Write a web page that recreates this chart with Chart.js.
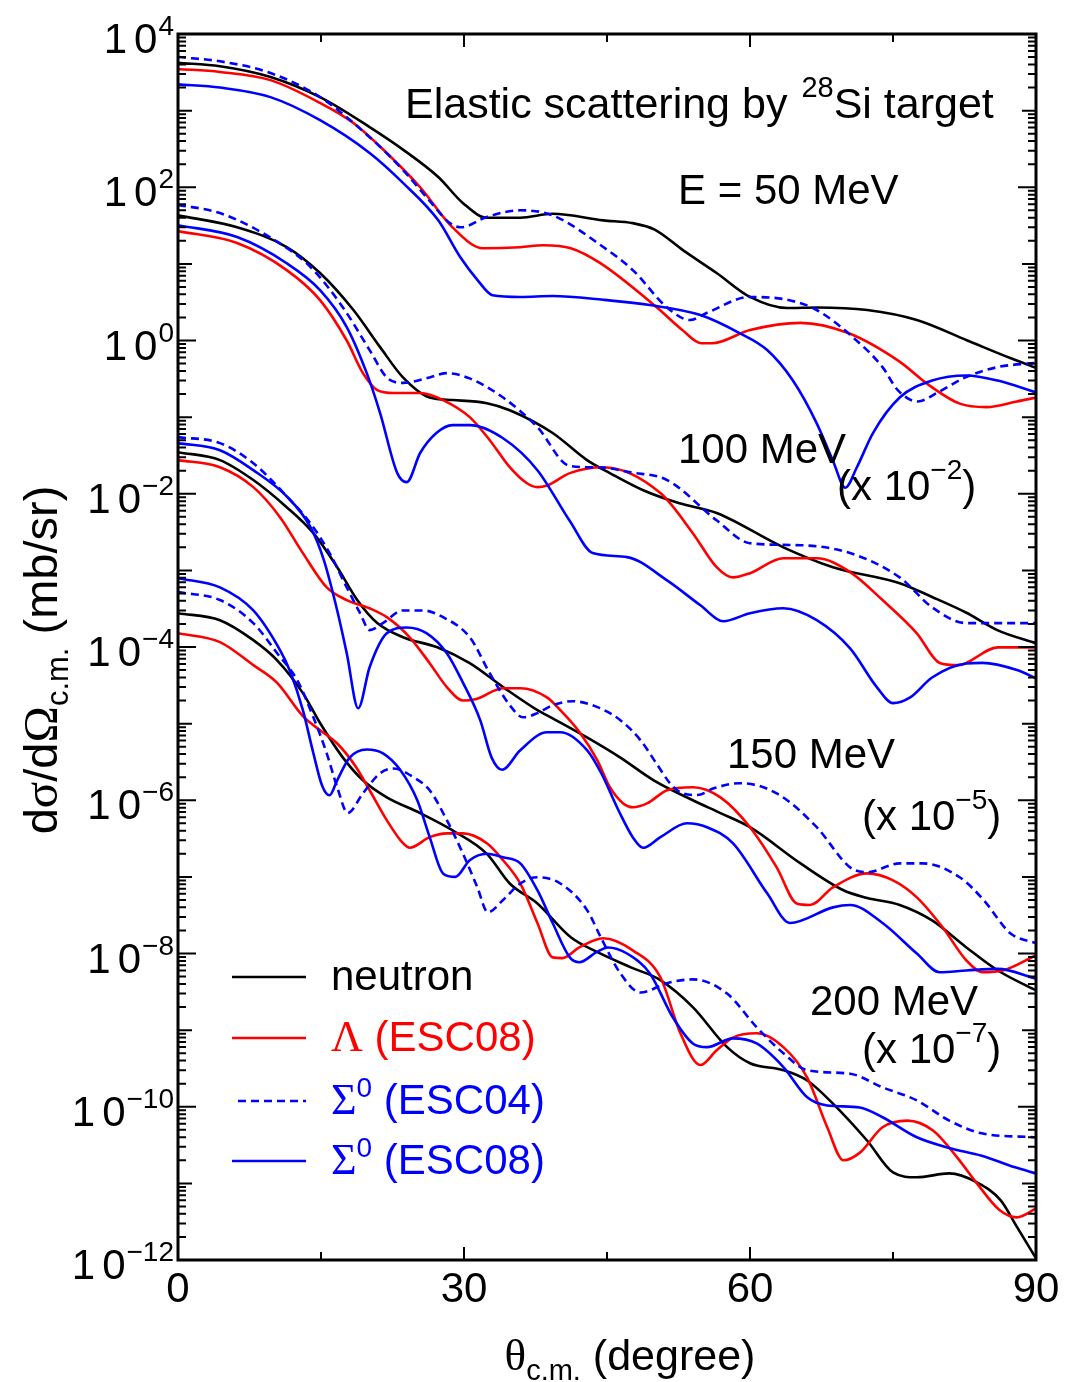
<!DOCTYPE html>
<html>
<head>
<meta charset="utf-8">
<script src="https://cdn.jsdelivr.net/npm/chart.js@4.4.1/dist/chart.umd.min.js"></script>
<style>
  html, body { margin: 0; padding: 0; background: #fff; }
</style>
</head>
<body>
<canvas id="grafik" width="1065" height="1382"></canvas>
<script>
// angles (degree) and cross sections (mb/sr)
// 50 MeV
const angN50 = [0, 4.4, 9.7, 14.9, 20.1, 23.6, 27.3, 29.9, 32.4, 35.9, 39.3, 44.6, 47.7, 50.0, 53.0, 56.5, 60.0, 63.9, 67.0, 72.3, 77.5, 82.8, 87.3, 90];
const valN50 = [4.2e3, 3.8e3, 2.75e3, 1.5e3, 6.1e2, 3.1e2, 1.36e2, 62, 40, 40, 45, 37, 34, 28, 15, 7.6, 3.7, 2.65, 2.7, 2.5, 1.85, 1.0, 0.59, 0.44];
const angL50 = [0, 4.4, 9.7, 14.9, 18.4, 21.9, 25.4, 28.8, 32.0, 35.9, 38.3, 41.2, 44.3, 50.3, 52.9, 54.9, 56.0, 60.0, 65.3, 70.3, 75.5, 79.0, 82.0, 84.8, 88.0, 90];
const valL50 = [3.5e3, 3.2e3, 2.5e3, 1.26e3, 6.9e2, 2.8e2, 1.0e2, 30, 16, 16.5, 17.5, 16, 10.2, 2.65, 1.37, 0.92, 0.92, 1.37, 1.7, 1.25, 0.55, 0.25, 0.15, 0.135, 0.16, 0.18];
const angS4_50 = [0, 4.4, 9.7, 14.9, 20.1, 23.6, 26.6, 28.4, 29.7, 32.4, 35.9, 39.3, 44.6, 47.7, 51.3, 53.7, 55.5, 60.0, 63.9, 67.0, 70.8, 73.9, 75.5, 77.6, 79.7, 82.6, 86.0, 90];
const valS4_50 = [5.0e3, 4.4e3, 3.1e3, 1.5e3, 4.5e2, 1.68e2, 62, 35, 30, 41, 50, 43, 16.6, 8.3, 2.7, 1.85, 2.3, 3.7, 3.4, 2.5, 1.1, 0.45, 0.225, 0.16, 0.21, 0.33, 0.45, 0.51];
const angS8_50 = [0, 4.4, 9.7, 14.9, 20.1, 23.6, 27.3, 29.6, 31.4, 33.0, 35.9, 39.3, 44.6, 49.5, 54.8, 58.9, 61.8, 64.5, 67.0, 68.7, 70.0, 71.2, 72.9, 75.7, 79.1, 82.7, 86.0, 90];
const valS8_50 = [2.2e3, 2.0e3, 1.5e3, 7.5e2, 2.8e2, 1.14e2, 37, 12.3, 6.2, 3.9, 3.7, 3.8, 3.4, 2.9, 2.15, 1.25, 0.75, 0.30, 0.083, 0.027, 0.012, 0.022, 0.062, 0.18, 0.30, 0.35, 0.30, 0.21];

// 100 MeV (x 10^-2)
const angN100 = [0, 6.2, 11.4, 14.9, 18.4, 21.2, 23.6, 26.4, 28.8, 32.4, 34.8, 39.3, 42.9, 45.3, 48.8, 52.6, 56.5, 63.5, 68.7, 75.7, 79.1, 82.7, 86.0, 90];
const valN100 = [43, 30, 16.6, 7.6, 2.5, 0.82, 0.33, 0.18, 0.167, 0.152, 0.123, 0.062, 0.0275, 0.0186, 0.0111, 0.0075, 0.0056, 0.0020, 0.0011, 6.8e-4, 4.5e-4, 2.8e-4, 1.65e-4, 1.12e-4];
const angL100 = [0, 6.2, 11.4, 14.9, 17.7, 19.4, 20.9, 22.6, 25.4, 27.8, 30.6, 32.7, 34.8, 36.6, 37.7, 38.7, 41.1, 44.6, 50.6, 54.0, 56.5, 58.2, 60.0, 63.5, 67.0, 70.5, 73.9, 77.5, 79.9, 81.8, 86.0, 90];
const valL100 = [26.8, 18.7, 8.3, 3.37, 1.0, 0.375, 0.225, 0.206, 0.206, 0.167, 0.1, 0.05, 0.0222, 0.0137, 0.0122, 0.0128, 0.0186, 0.0222, 0.0102, 0.00306, 0.0011, 8.1e-4, 9.2e-4, 1.44e-3, 1.44e-3, 9.5e-4, 4.1e-4, 1.51e-4, 6.2e-5, 5.8e-5, 9.9e-5, 9.9e-5];
const angS4_100 = [0, 4.4, 9.7, 13.9, 17.3, 20.1, 21.9, 23.6, 26.4, 28.2, 30.6, 34.1, 37.7, 41.1, 44.3, 47.5, 51.3, 56.5, 60.0, 65.3, 70.5, 75.7, 79.1, 82.7, 90];
const valS4_100 = [59, 46, 22, 9.1, 2.7, 0.75, 0.33, 0.28, 0.33, 0.375, 0.32, 0.18, 0.074, 0.023, 0.022, 0.019, 0.0151, 0.0045, 0.00226, 0.00213, 0.00168, 8.1e-4, 3.3e-4, 2.05e-4, 2.05e-4];
const angS8_100 = [0, 6.2, 11.4, 14.9, 17.7, 19.8, 21.2, 23.0, 24.0, 25.4, 27.1, 28.8, 30.6, 34.1, 37.7, 41.1, 43.5, 47.1, 51.3, 54.8, 57.2, 60.0, 63.5, 67.0, 70.5, 73.3, 75.0, 76.8, 79.1, 82.7, 84.4, 88.0, 90];
const valS8_100 = [32, 22.4, 10.2, 4.55, 1.5, 0.375, 0.113, 0.0186, 0.0142, 0.034, 0.062, 0.0787, 0.0787, 0.053, 0.0203, 0.0044, 0.00168, 0.00149, 7.4e-4, 3.5e-4, 2.17e-4, 2.76e-4, 3.2e-4, 2.24e-4, 9.6e-5, 3.0e-5, 1.85e-5, 2.2e-5, 4.0e-5, 6.1e-5, 6.2e-5, 5.0e-5, 3.9e-5];

// 150 MeV (x 10^-5)
const angN150 = [0, 4.4, 7.9, 11.4, 14.2, 16.7, 18.8, 20.9, 23.6, 27.2, 30.6, 34.1, 37.7, 39.3, 42.9, 46.4, 49.9, 54.0, 56.9, 60.0, 65.3, 69.8, 72.3, 75.7, 79.1, 82.7, 86.0, 90];
const valN150 = [0.0349, 0.0275, 0.0151, 0.00668, 0.00306, 0.0011, 4.1e-4, 2.05e-4, 1.34e-4, 9.9e-5, 6.15e-5, 3.0e-5, 1.5e-5, 1.17e-5, 6.6e-6, 3.6e-6, 1.82e-6, 1.0e-6, 6.8e-7, 4.45e-7, 1.5e-7, 6.7e-8, 5.3e-8, 4.3e-8, 2.7e-8, 1.2e-8, 6.0e-9, 3.3e-9];
const angL150 = [0, 4.4, 7.9, 10.7, 13.1, 15.6, 17.7, 20.1, 21.9, 24.3, 26.4, 28.2, 29.9, 31.3, 34.1, 35.9, 38.7, 40.1, 42.2, 44.0, 45.3, 46.7, 47.7, 49.2, 51.3, 54.0, 56.9, 60.0, 62.8, 64.9, 66.3, 68.7, 72.3, 75.0, 77.5, 80.2, 82.7, 84.4, 86.5, 90];
const valL150 = [0.0275, 0.0222, 0.0122, 0.00495, 0.00168, 6.0e-4, 4.1e-4, 3.2e-4, 2.45e-4, 1.34e-4, 6.15e-5, 3.0e-5, 2.0e-5, 2.1e-5, 2.9e-5, 2.9e-5, 2.2e-5, 1.5e-5, 7.5e-6, 3.3e-6, 1.48e-6, 9.1e-7, 8.1e-7, 9.1e-7, 1.35e-6, 1.48e-6, 1.09e-6, 4.45e-7, 1.33e-7, 4.5e-8, 4.3e-8, 7.3e-8, 1.11e-7, 9.0e-8, 5.4e-8, 2.2e-8, 8.1e-9, 5.7e-9, 6.0e-9, 9.5e-9];
const angS4_150 = [0, 4.4, 7.9, 11.5, 13.9, 15.9, 17.7, 19.1, 20.1, 21.5, 23.6, 25.7, 27.8, 30.6, 32.7, 34.8, 36.2, 37.7, 39.3, 41.4, 44.0, 46.4, 48.5, 50.2, 51.6, 52.7, 54.5, 56.2, 58.9, 62.8, 67.0, 70.5, 72.3, 75.7, 78.1, 82.0, 84.5, 87.3, 90];
const valS4_150 = [0.0548, 0.0458, 0.025, 0.009, 0.0041, 0.00168, 6.0e-4, 2.76e-4, 1.66e-4, 2.05e-4, 3.0e-4, 3.0e-4, 2.45e-4, 1.34e-4, 4.55e-5, 1.74e-5, 1.21e-5, 1.37e-5, 1.74e-5, 1.96e-5, 1.64e-5, 1.11e-5, 6.1e-6, 3.0e-6, 1.67e-6, 1.27e-6, 1.17e-6, 1.43e-6, 1.67e-6, 1.23e-6, 4.45e-7, 1.33e-7, 1.15e-7, 1.5e-7, 1.5e-7, 9.9e-8, 5.0e-8, 1.84e-8, 1.36e-8];
const angS8_150 = [0, 4.4, 7.9, 11.5, 13.9, 15.3, 16.7, 17.7, 18.9, 20.1, 21.9, 24.0, 26.1, 28.2, 29.9, 31.7, 32.9, 34.0, 35.9, 38.7, 40.1, 42.9, 44.4, 46.2, 47.7, 48.8, 50.6, 53.4, 55.5, 58.2, 61.8, 64.2, 68.7, 70.5, 73.9, 77.5, 79.9, 82.7, 86.0, 90];
const valS8_150 = [0.0458, 0.037, 0.0203, 0.009, 0.00366, 0.00136, 3.0e-4, 8.3e-5, 1.59e-5, 5.45e-5, 1.51e-4, 1.8e-4, 1.51e-4, 8.3e-5, 3.4e-5, 1.11e-5, 3.6e-6, 2.5e-6, 4.5e-6, 7.7e-6, 7.7e-6, 4.5e-6, 2.25e-6, 7.4e-7, 3.3e-7, 2.4e-7, 3.3e-7, 5.0e-7, 4.45e-7, 2.75e-7, 6.1e-8, 2.5e-8, 4.0e-8, 4.3e-8, 2.5e-8, 1.0e-8, 5.7e-9, 6.0e-9, 6.3e-9, 4.7e-9];

// 200 MeV (x 10^-7)
const angN200 = [0, 4.4, 7.9, 10.4, 13.1, 14.9, 17.3, 19.4, 21.9, 25.4, 28.8, 32.4, 34.8, 37.7, 41.2, 44.0, 47.5, 50.6, 54.0, 57.6, 60.0, 63.5, 66.0, 68.7, 72.3, 75.0, 77.5, 80.9, 83.8, 86.3, 88.0, 90];
const valN200 = [2.76e-4, 2.24e-4, 1.23e-4, 6.7e-5, 2.5e-5, 1.02e-5, 3.6e-6, 1.82e-6, 1.09e-6, 6.8e-7, 4.05e-7, 2.0e-7, 8.2e-8, 4.5e-8, 1.63e-8, 1.04e-8, 6.6e-9, 4.5e-9, 2.0e-9, 6.0e-10, 3.7e-10, 3.0e-10, 2.2e-10, 1.1e-10, 3.6e-11, 1.39e-11, 1.2e-11, 1.35e-11, 1.03e-11, 6.0e-12, 2.7e-12, 1.05e-12];
const angL200 = [0, 4.4, 7.9, 10.4, 13.1, 14.9, 16.7, 18.6, 20.1, 21.9, 23.6, 24.3, 26.4, 28.2, 29.9, 32.4, 34.1, 35.9, 37.7, 39.3, 40.3, 42.1, 44.6, 47.7, 50.6, 52.7, 54.8, 56.5, 58.2, 60.7, 63.5, 66.0, 68.1, 69.8, 71.5, 73.9, 76.5, 79.2, 81.7, 83.8, 86.2, 88.0, 90];
const valL200 = [1.51e-4, 1.16e-4, 5.8e-5, 3.4e-5, 1.25e-5, 8.2e-6, 5.5e-6, 2.8e-6, 1.35e-6, 5.5e-7, 2.75e-7, 2.4e-7, 3.3e-7, 3.7e-7, 3.7e-7, 2.75e-7, 1.65e-7, 8.2e-8, 2.5e-8, 8.9e-9, 8.7e-9, 1.2e-8, 1.58e-8, 1.1e-8, 4.9e-9, 9.1e-10, 3.5e-10, 5.45e-10, 8.0e-10, 9.1e-10, 6.0e-10, 2.4e-10, 5.4e-11, 2.0e-11, 2.5e-11, 5.4e-11, 6.6e-11, 4.9e-11, 2.2e-11, 1.0e-11, 4.45e-12, 3.6e-12, 4.7e-12];
const angS4_200 = [0, 4.4, 7.9, 10.4, 12.5, 14.2, 15.6, 16.7, 17.8, 19.4, 21.2, 22.6, 24.7, 26.4, 28.2, 29.9, 31.4, 32.5, 34.1, 35.9, 37.7, 40.1, 42.9, 44.4, 46.4, 48.5, 51.3, 54.0, 57.6, 60.7, 63.5, 66.0, 70.5, 73.9, 77.5, 80.9, 84.3, 90];
const valS4_200 = [5.2e-4, 4.1e-4, 2.05e-4, 8.3e-5, 3.7e-5, 1.21e-5, 4.1e-6, 1.48e-6, 6.8e-7, 1.23e-6, 2.25e-6, 2.6e-6, 2.0e-6, 1.35e-6, 5.5e-7, 2.0e-7, 7.3e-8, 3.45e-8, 5.0e-8, 8.2e-8, 9.9e-8, 8.2e-8, 3.7e-8, 1.58e-8, 5.5e-9, 3.1e-9, 4.1e-9, 4.6e-9, 3.0e-9, 1.09e-9, 5.0e-10, 3.0e-10, 2.7e-10, 1.79e-10, 1.21e-10, 6.6e-11, 4.5e-11, 4.0e-11];
const angS8_200 = [0, 4.4, 7.9, 10.7, 11.7, 13.1, 14.2, 15.1, 15.9, 16.7, 18.0, 19.8, 21.5, 23.3, 25.1, 26.4, 27.8, 29.1, 30.6, 32.4, 34.1, 35.9, 37.7, 39.3, 41.1, 42.1, 43.9, 45.1, 47.1, 49.5, 51.9, 54.0, 55.5, 58.2, 60.7, 63.5, 66.0, 68.1, 71.5, 73.9, 77.5, 80.9, 84.3, 87.8, 90];
const valS8_200 = [7.9e-4, 6.0e-4, 3.0e-4, 9.1e-5, 5.0e-5, 1.5e-5, 4.1e-6, 1.57e-6, 1.16e-6, 1.82e-6, 3.6e-6, 4.6e-6, 4.1e-6, 2.5e-6, 1.0e-6, 3.3e-7, 1.11e-7, 1.0e-7, 1.65e-7, 2.0e-7, 1.8e-7, 1.5e-7, 6.7e-8, 2.5e-8, 8.9e-9, 7.7e-9, 1.04e-8, 1.2e-8, 1.0e-8, 5.5e-9, 1.47e-9, 6.7e-10, 6.0e-10, 7.8e-10, 6.7e-10, 3.3e-10, 1.33e-10, 1.04e-10, 9.8e-11, 7.3e-11, 4.0e-11, 2.9e-11, 2.3e-11, 1.62e-11, 1.35e-11];

// axis ticks
const xTicks = [0, 30, 60, 90];
const yTickPowers = [4, 2, 0, -2, -4, -6, -8, -10, -12];

const HITAM = "#000000";
const MERAH = "#ff0000";
const BIRU = "#0000ff";
const SANS = '"Liberation Sans", Arial, Helvetica, sans-serif';
const SERIF = '"Liberation Serif", "Times New Roman", serif';

function seri(ang, val, warna, putus) {
  return {
    data: ang.map((a, i) => ({ x: a, y: val[i] })),
    borderColor: warna,
    borderWidth: 2.6,
    borderDash: putus ? [8, 5] : [],
    pointRadius: 0,
    fill: false,
    cubicInterpolationMode: "monotone",
  };
}

// draws a run of text pieces (for superscripts / subscripts)
function tulis(c, parts, x, y, align) {
  let total = 0;
  parts.forEach((p) => {
    c.font = p.f;
    p.w = c.measureText(p.t).width + (p.gap || 0);
    total += p.w;
  });
  let cx = x;
  if (align === "right") cx = x - total;
  if (align === "center") cx = x - total / 2;
  c.textAlign = "left";
  c.textBaseline = "alphabetic";
  parts.forEach((p) => {
    c.font = p.f;
    c.fillStyle = p.c || HITAM;
    c.fillText(p.t, cx, y + (p.dy || 0));
    cx += p.w;
  });
}

const big = "42px " + SANS;
const small = "28px " + SANS;
const greek = "44px " + SERIF;

const dekorasi = {
  id: "dekorasi",
  beforeDraw(chart) {
    const c = chart.ctx;
    c.save();
    c.fillStyle = "#ffffff";
    c.fillRect(0, 0, chart.width, chart.height);
    c.restore();
  },
  afterDraw(chart) {
    const c = chart.ctx;
    const a = chart.chartArea;
    const sx = chart.scales.x;
    const sy = chart.scales.y;
    c.save();
    c.strokeStyle = HITAM;

    // y ticks, both sides
    c.lineWidth = 2;
    for (let p = -12; p <= 4; p++) {
      const y = sy.getPixelForValue(Math.pow(10, p));
      const len = p % 2 === 0 ? 18 : 14;
      c.beginPath();
      c.moveTo(a.left, y); c.lineTo(a.left + len, y);
      c.moveTo(a.right, y); c.lineTo(a.right - len, y);
      c.stroke();
      if (p === 4) continue;
      for (let m = 2; m <= 9; m++) {
        const ym = sy.getPixelForValue(m * Math.pow(10, p));
        c.beginPath();
        c.moveTo(a.left, ym); c.lineTo(a.left + 8, ym);
        c.moveTo(a.right, ym); c.lineTo(a.right - 8, ym);
        c.stroke();
      }
    }
    // x ticks, top and bottom
    for (let d = 0; d <= 90; d += 15) {
      const x = sx.getPixelForValue(d);
      const len = d % 30 === 0 ? 13 : 8;
      c.beginPath();
      c.moveTo(x, a.bottom); c.lineTo(x, a.bottom - len);
      c.moveTo(x, a.top); c.lineTo(x, a.top + len);
      c.stroke();
    }

    // frame
    c.lineWidth = 3;
    c.strokeRect(a.left, a.top, a.right - a.left, a.bottom - a.top);

    // tick labels
    yTickPowers.forEach((p) => {
      const y = sy.getPixelForValue(Math.pow(10, p));
      const e = p < 0 ? "\u2212" + Math.abs(p) : String(p);
      tulis(c, [
        { t: "1", f: big, gap: 7 },
        { t: "0", f: big, gap: 1 },
        { t: e, f: small, dy: -18 },
      ], 174, y + 19, "right");
    });
    xTicks.forEach((d) => {
      tulis(c, [{ t: String(d), f: big }], sx.getPixelForValue(d), 1302, "center");
    });

    // axis titles
    const mid = "43px " + SANS;
    tulis(c, [
      { t: "\u03b8", f: "45px " + SERIF },
      { t: "c.m.", f: "29px " + SANS, dy: 10 },
      { t: " (degree)", f: mid },
    ], 630, 1370, "center");
    c.save();
    c.translate(57, 660);
    c.rotate(-Math.PI / 2);
    tulis(c, [
      { t: "d", f: "47px " + SANS },
      { t: "\u03c3", f: "49px " + SERIF },
      { t: "/d", f: "47px " + SANS },
      { t: "\u03a9", f: "49px " + SERIF },
      { t: "c.m.", f: "31px " + SANS, dy: 11 },
      { t: " (mb/sr)", f: "47px " + SANS },
    ], 0, 0, "center");
    c.restore();

    // annotations
    tulis(c, [
      { t: "Elastic scattering by", f: mid, gap: 14 },
      { t: "28", f: "29px " + SANS, dy: -21 },
      { t: "Si target", f: mid },
    ], 405, 118, "left");
    tulis(c, [{ t: "E = 50 MeV", f: big }], 678, 204, "left");
    tulis(c, [{ t: "100 MeV", f: big }], 678, 463, "left");
    tulis(c, [{ t: "(x 10", f: big }, { t: "\u22122", f: small, dy: -21 }, { t: ")", f: big }], 837, 500, "left");
    tulis(c, [{ t: "150 MeV", f: big }], 727, 768, "left");
    tulis(c, [{ t: "(x 10", f: big }, { t: "\u22125", f: small, dy: -21 }, { t: ")", f: big }], 862, 830, "left");
    tulis(c, [{ t: "200 MeV", f: big }], 810, 1015, "left");
    tulis(c, [{ t: "(x 10", f: big }, { t: "\u22127", f: small, dy: -21 }, { t: ")", f: big }], 862, 1063, "left");

    // legend
    const rows = [
      { y: 977, col: HITAM, dash: [], x0: 232, parts: [{ t: "neutron", f: big }] },
      { y: 1038, col: MERAH, dash: [], x0: 232, parts: [{ t: "\u039b", f: greek, c: MERAH }, { t: " (ESC08)", f: big, c: MERAH }] },
      { y: 1101, col: BIRU, dash: [8, 5], x0: 238, parts: [{ t: "\u03a3", f: greek, c: BIRU }, { t: "0", f: small, dy: -17, c: BIRU }, { t: " (ESC04)", f: big, c: BIRU }] },
      { y: 1161, col: BIRU, dash: [], x0: 232, parts: [{ t: "\u03a3", f: greek, c: BIRU }, { t: "0", f: small, dy: -17, c: BIRU }, { t: " (ESC08)", f: big, c: BIRU }] },
    ];
    rows.forEach((r) => {
      c.strokeStyle = r.col;
      c.lineWidth = 2.6;
      c.setLineDash(r.dash);
      c.beginPath();
      c.moveTo(r.x0, r.y);
      c.lineTo(306, r.y);
      c.stroke();
      c.setLineDash([]);
      tulis(c, r.parts, 331, r.y + 13, "left");
    });
    c.restore();
  },
};

const ctx = document.getElementById("grafik").getContext("2d");
new Chart(ctx, {
  type: "line",
  data: {
    datasets: [
      seri(angS4_50, valS4_50, BIRU, true),
      seri(angS8_50, valS8_50, BIRU, false),
      seri(angL50, valL50, MERAH, false),
      seri(angN50, valN50, HITAM, false),
      seri(angS4_100, valS4_100, BIRU, true),
      seri(angS8_100, valS8_100, BIRU, false),
      seri(angL100, valL100, MERAH, false),
      seri(angN100, valN100, HITAM, false),
      seri(angS4_150, valS4_150, BIRU, true),
      seri(angS8_150, valS8_150, BIRU, false),
      seri(angL150, valL150, MERAH, false),
      seri(angN150, valN150, HITAM, false),
      seri(angS4_200, valS4_200, BIRU, true),
      seri(angS8_200, valS8_200, BIRU, false),
      seri(angL200, valL200, MERAH, false),
      seri(angN200, valN200, HITAM, false),
    ],
  },
  options: {
    responsive: false,
    animation: false,
    layout: { padding: { left: 178, right: 29, top: 34, bottom: 122 } },
    plugins: { legend: { display: false }, tooltip: { enabled: false } },
    scales: {
      x: { type: "linear", min: 0, max: 90, display: false },
      y: { type: "logarithmic", min: 1e-12, max: 1e4, display: false },
    },
  },
  plugins: [dekorasi],
});
</script>
</body>
</html>
